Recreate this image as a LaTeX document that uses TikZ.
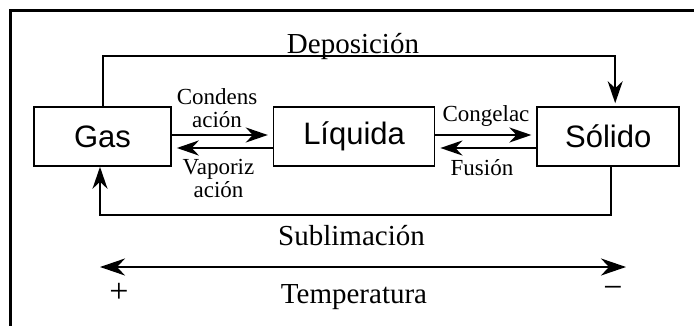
\documentclass[tikz,border=0pt]{standalone}
\usepackage{fontspec}
\setmainfont{Liberation Serif}
\newfontfamily\phasefont{Liberation Sans}
\usetikzlibrary{positioning,arrows.meta}

\begin{document}
\begin{tikzpicture}[x=1pt, y=1pt, node distance=101pt,
  phase/.style = {draw, line width=1.6pt, minimum height=59pt, font=\phasefont\fontsize{31}{31}\selectfont},
  big/.style = {font=\fontsize{29}{29}\selectfont, inner sep=0pt},
  small/.style = {font=\fontsize{23}{23}\selectfont, inner sep=0pt, align=center},
  trans/.style = {line width=2.5pt, -{Stealth[length=22pt, width=15pt, inset=7pt]}}]
\useasboundingbox (0,0) rectangle (694,325);
\clip (0,0) rectangle (694,325);
\draw[line width=3pt] (10,-20) rectangle (720,315);
% the three phases
\node[phase, minimum width=137pt] (gas) at (102.5,188.5) {Gas};
\node[phase, minimum width=161pt] (liq) [right=of gas] {Líquida};
\node[phase, minimum width=142pt] (sol) [right=of liq] {Sólido};
% changes of phase
\draw[trans, shorten >=5pt] ([yshift=1.5pt]gas.east) -- ([yshift=1.5pt]liq.west);
\draw[trans, shorten >=5pt] ([yshift=-11.5pt]liq.west) -- ([yshift=-11.5pt]gas.east);
\draw[trans, shorten >=5pt] ([yshift=1.5pt]liq.east) -- ([yshift=1.5pt]sol.west);
\draw[trans, shorten >=5pt] ([yshift=-11.5pt]sol.west) -- ([yshift=-11.5pt]liq.east);
\draw[trans, line width=2pt, shorten >=3pt] (gas.north) -- ++(0,50) -| ([xshift=7pt]sol.north);
\draw[trans, line width=2pt] ([xshift=3pt]sol.south) -- ++(0,-48) -| ([xshift=-2.5pt]gas.south);
\node[small] (cond) at (217,217) {Condens\\ación};
\node[small] (vap) at (218.5,147) {Vaporiz\\ación};
\node[small, anchor=base] (cong) at (486,204) {Congelac};
\node[small, anchor=base] (fus) at (482,150) {Fusión};
\node[big, anchor=base] (dep) at (353,272) {Deposición};
\node[big, anchor=base] (sub) at (351.5,80) {Sublimación};
% temperature scale
\coordinate (hot) at (100,58);
\coordinate (cold) at (626,58);
\draw[line width=2.5pt, {Stealth[length=25pt, width=17pt, inset=8pt]}-{Stealth[length=25pt, width=17pt, inset=8pt]}] (hot) -- (cold);
\node[big, anchor=base] (temp) at (354,22) {Temperatura};
\node[big, font=\fontsize{34}{34}\selectfont] (plus) at (119,32) {+};
\node[big, font=\fontsize{34}{34}\selectfont] (minus) at (613,33) {−};
\end{tikzpicture}
\end{document}
